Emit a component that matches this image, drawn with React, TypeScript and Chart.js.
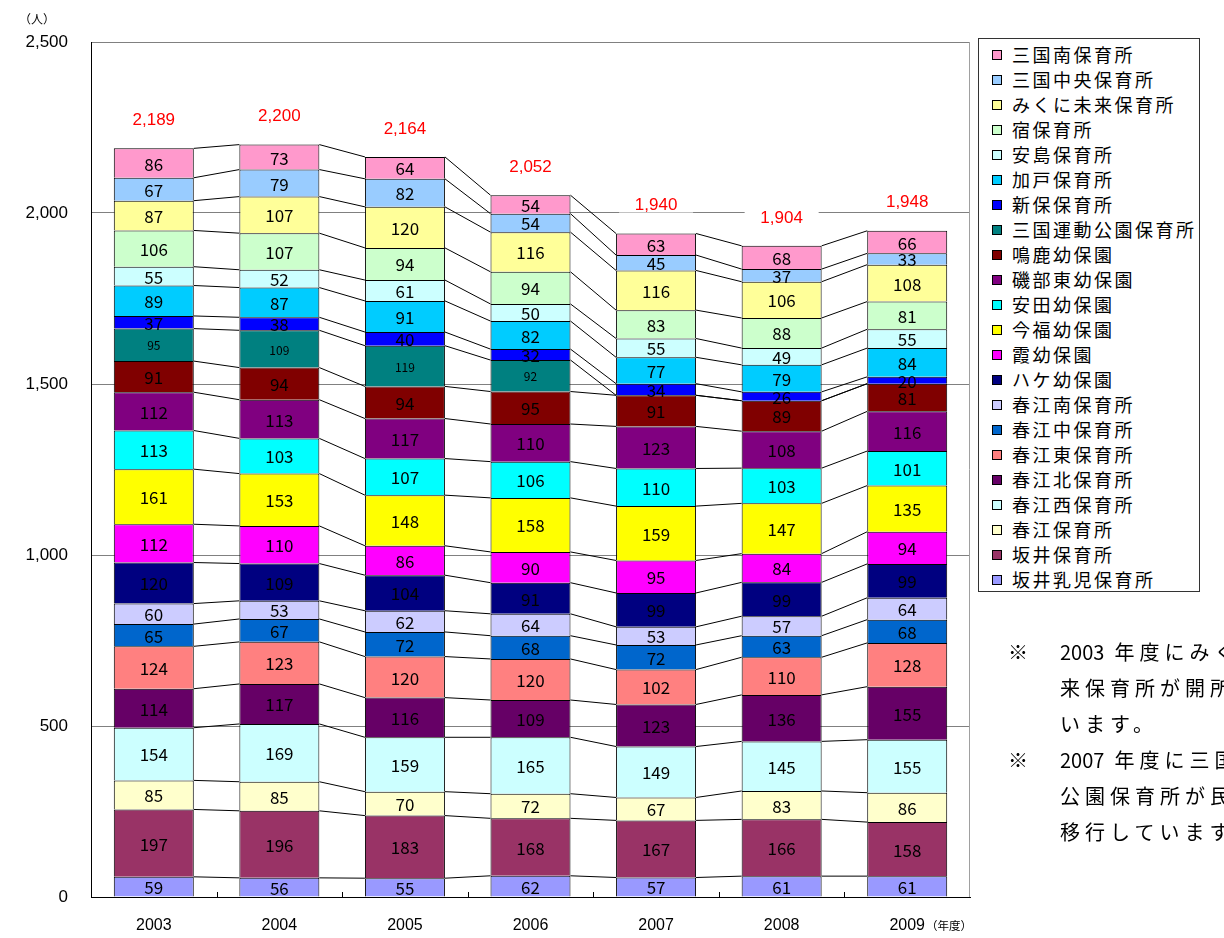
import React, { useEffect, useRef } from 'react';
import { Chart, registerables } from 'chart.js';

Chart.register(...registerables);

// ---- categories / ticks ----
const years = ['2003', '2004', '2005', '2006', '2007', '2008', '2009'];
const yTicks = [0, 500, 1000, 1500, 2000, 2500];
const totals = [2189, 2200, 2164, 2052, 1940, 1904, 1948];

// ---- series values (bottom of stack first) ----
const sakaiNyuji = [59, 56, 55, 62, 57, 61, 61];
const sakai = [197, 196, 183, 168, 167, 166, 158];
const harue = [85, 85, 70, 72, 67, 83, 86];
const harueNishi = [154, 169, 159, 165, 149, 145, 155];
const harueKita = [114, 117, 116, 109, 123, 136, 155];
const harueHigashi = [124, 123, 120, 120, 102, 110, 128];
const harueNaka = [65, 67, 72, 68, 72, 63, 68];
const harueMinami = [60, 53, 62, 64, 53, 57, 64];
const hake = [120, 109, 104, 91, 99, 99, 99];
const kasumi = [112, 110, 86, 90, 95, 84, 94];
const imafuku = [161, 153, 148, 158, 159, 147, 135];
const yasuda = [113, 103, 107, 106, 110, 103, 101];
const isobeHigashi = [112, 113, 117, 110, 123, 108, 116];
const naruka = [91, 94, 94, 95, 91, 89, 81];
const mikuniUndoKoen: (number | null)[] = [95, 109, 119, 92, null, null, null];
const shinbo = [37, 38, 40, 32, 34, 26, 20];
const kado = [89, 87, 91, 82, 77, 79, 84];
const ajima = [55, 52, 61, 50, 55, 49, 55];
const shuku = [106, 107, 94, 94, 83, 88, 81];
const mikuniMirai = [87, 107, 120, 116, 116, 106, 108];
const mikuniChuo = [67, 79, 82, 54, 45, 37, 33];
const mikuniMinami = [86, 73, 64, 54, 63, 68, 66];

const seriesNames = [
  '坂井乳児保育所', '坂井保育所', '春江保育所', '春江西保育所', '春江北保育所',
  '春江東保育所', '春江中保育所', '春江南保育所', 'ハケ幼保園', '霞幼保園',
  '今福幼保園', '安田幼保園', '磯部東幼保園', '鳴鹿幼保園', '三国運動公園保育所',
  '新保保育所', '加戸保育所', '安島保育所', '宿保育所', 'みくに未来保育所',
  '三国中央保育所', '三国南保育所',
];
const seriesValues: (number | null)[][] = [
  sakaiNyuji, sakai, harue, harueNishi, harueKita, harueHigashi, harueNaka,
  harueMinami, hake, kasumi, imafuku, yasuda, isobeHigashi, naruka,
  mikuniUndoKoen, shinbo, kado, ajima, shuku, mikuniMirai, mikuniChuo, mikuniMinami,
];
const seriesColors = [
  '#9999FF', '#993366', '#FFFFCC', '#CCFFFF', '#660066',
  '#FF8080', '#0066CC', '#CCCCFF', '#000080', '#FF00FF',
  '#FFFF00', '#00FFFF', '#800080', '#800000', '#008080',
  '#0000FF', '#00CCFF', '#CCFFFF', '#CCFFCC', '#FFFF99',
  '#99CCFF', '#FF99CC',
];
const smallLabelSeries = '三国運動公園保育所';

const CJK = '"Noto Sans CJK JP", "Noto Sans CJK SC", sans-serif';
const SANS = '"Liberation Sans", Arial, sans-serif';

const overlayPlugin = {
  id: 'overlay',
  afterDatasetsDraw(chart: any) {
    const ctx: CanvasRenderingContext2D = chart.ctx;
    const ys = chart.scales.y;
    const area = chart.chartArea;
    ctx.save();

    // right border of plot area
    ctx.strokeStyle = '#a0a0a0';
    ctx.lineWidth = 1;
    ctx.beginPath();
    const rx = Math.round(area.right) - 0.5;
    ctx.moveTo(rx, area.top);
    ctx.lineTo(rx, area.bottom);
    ctx.stroke();

    const base = chart.getDatasetMeta(0).data;

    // small inside tick marks between categories
    ctx.strokeStyle = '#000';
    ctx.beginPath();
    for (let j = 0; j < years.length - 1; j++) {
      const mx = Math.round((base[j].x + base[j + 1].x) / 2) + 0.5;
      ctx.moveTo(mx, area.bottom);
      ctx.lineTo(mx, area.bottom - 5);
    }
    ctx.stroke();

    // series lines joining the segment tops
    ctx.strokeStyle = '#000';
    ctx.lineWidth = 1;
    ctx.beginPath();
    for (let j = 0; j < years.length - 1; j++) {
      const a = base[j];
      const b = base[j + 1];
      const xa = a.x + a.width / 2;
      const xb = b.x - b.width / 2;
      let cumA = 0;
      let cumB = 0;
      for (let s = 0; s < seriesValues.length; s++) {
        cumA += seriesValues[s][j] ?? 0;
        cumB += seriesValues[s][j + 1] ?? 0;
        ctx.moveTo(xa, ys.getPixelForValue(cumA));
        ctx.lineTo(xb, ys.getPixelForValue(cumB));
      }
    }
    ctx.stroke();

    // segment value labels
    ctx.textAlign = 'center';
    ctx.textBaseline = 'middle';
    ctx.fillStyle = '#000';
    chart.data.datasets.forEach((ds: any, i: number) => {
      const meta = chart.getDatasetMeta(i);
      ctx.font = (ds.label === smallLabelSeries ? '12px ' : '17px ') + CJK;
      meta.data.forEach((el: any, j: number) => {
        const v = ds.data[j];
        if (v == null) return;
        ctx.fillText(String(v), el.x, (el.y + el.base) / 2 + 1);
      });
    });

    // totals
    ctx.font = '17px ' + SANS;
    totals.forEach((t, j) => {
      const px = base[j].x;
      const py = ys.getPixelForValue(t) - 28;
      ctx.fillStyle = '#fff';
      ctx.fillRect(px - 37, py - 7, 74, 14);
      ctx.fillStyle = '#FF0000';
      ctx.fillText(t.toLocaleString('en-US'), px, py);
    });

    ctx.restore();
  },
};

export default function App() {
  const ref = useRef<HTMLCanvasElement>(null);

  useEffect(() => {
    if (!ref.current) return;
    const chart = new Chart(ref.current, {
      type: 'bar',
      data: {
        labels: years,
        datasets: seriesValues.map((vals, i) => ({
          label: seriesNames[i],
          data: vals,
          backgroundColor: seriesColors[i],
          borderColor: '#000',
          borderWidth: 1,
          borderSkipped: 'bottom',
          barPercentage: 0.637,
          categoryPercentage: 1,
        })),
      },
      options: {
        responsive: false,
        animation: false,
        devicePixelRatio: 1,
        layout: { padding: { left: 0, top: 42, right: 254, bottom: 0 } },
        plugins: {
          legend: { display: false },
          tooltip: { enabled: false },
          title: { display: false },
        },
        scales: {
          x: {
            stacked: true,
            offset: true,
            grid: { display: false, drawTicks: false },
            border: { display: true, color: '#000', width: 1 },
            ticks: { color: '#000', font: { family: SANS, size: 16 }, padding: 19 },
            afterFit: (s: any) => { s.height = 41; },
          },
          y: {
            stacked: true,
            min: 0,
            max: 2500,
            grid: { color: '#808080', drawTicks: false, lineWidth: 1 },
            border: { display: true, color: '#000', width: 1 },
            afterBuildTicks: (s: any) => { s.ticks = yTicks.map((v) => ({ value: v })); },
            ticks: {
              color: '#000',
              font: { family: SANS, size: 17 },
              padding: 23,
              callback: (v: any) => Number(v).toLocaleString('en-US'),
            },
            afterFit: (s: any) => { s.width = 91; },
          },
        },
      },
      plugins: [overlayPlugin],
    } as any);
    return () => chart.destroy();
  }, []);

  const legendItems = seriesNames.map((n, i) => ({ n, c: seriesColors[i] })).reverse();

  const noteStyle: React.CSSProperties = {
    position: 'absolute',
    left: 1060,
    fontFamily: CJK,
    fontSize: 20,
    letterSpacing: 5,
    whiteSpace: 'nowrap',
    lineHeight: '24px',
    color: '#000',
  };
  const markStyle: React.CSSProperties = {
    position: 'absolute',
    left: 1008,
    fontFamily: CJK,
    fontSize: 20,
    lineHeight: '24px',
    color: '#000',
  };
  const numStyle: React.CSSProperties = { letterSpacing: 0, marginRight: 10 };
  const noteLines = [652, 688, 724, 760, 796, 832];

  return (
    <div style={{ position: 'fixed', left: 0, top: 0, width: 1224, height: 938, overflow: 'hidden', background: '#fff' }}>
      <canvas ref={ref} width={1224} height={938} style={{ position: 'absolute', left: 0, top: 0, width: 1224, height: 938 }} />
      <div style={{ position: 'absolute', left: 19, top: 12, fontFamily: CJK, fontSize: 12, lineHeight: '14px' }}>（人）</div>
      <div style={{ position: 'absolute', left: 926, top: 918, fontFamily: CJK, fontSize: 11.5, lineHeight: '14px', whiteSpace: 'nowrap' }}>（年度）</div>
      <div
        style={{
          position: 'absolute', left: 978, top: 38, width: 220, height: 552,
          border: '1px solid #333', background: '#fff', boxSizing: 'content-box',
        }}
      >
        {legendItems.map((it, k) => (
          <div key={it.n} style={{ position: 'absolute', left: 0, top: 2.5 + k * 25, height: 25, width: 220 }}>
            <div style={{ position: 'absolute', left: 13, top: 8, width: 8, height: 8, background: it.c, border: '1px solid #000' }} />
            <div style={{ position: 'absolute', left: 33, top: 0, lineHeight: '25px', fontFamily: CJK, fontSize: 18, letterSpacing: 2.5, whiteSpace: 'nowrap' }}>{it.n}</div>
          </div>
        ))}
      </div>
      <div style={{ ...markStyle, top: noteLines[0] - 12 }}>※</div>
      <div style={{ ...noteStyle, top: noteLines[0] - 12 }}><span style={numStyle}>2003</span>年度にみくに未来</div>
      <div style={{ ...noteStyle, top: noteLines[1] - 12 }}>来保育所が開所して</div>
      <div style={{ ...noteStyle, top: noteLines[2] - 12 }}>います。</div>
      <div style={{ ...markStyle, top: noteLines[3] - 12 }}>※</div>
      <div style={{ ...noteStyle, top: noteLines[3] - 12 }}><span style={numStyle}>2007</span>年度に三国運動</div>
      <div style={{ ...noteStyle, top: noteLines[4] - 12 }}>公園保育所が民間に</div>
      <div style={{ ...noteStyle, top: noteLines[5] - 12 }}>移行しています。</div>
    </div>
  );
}
